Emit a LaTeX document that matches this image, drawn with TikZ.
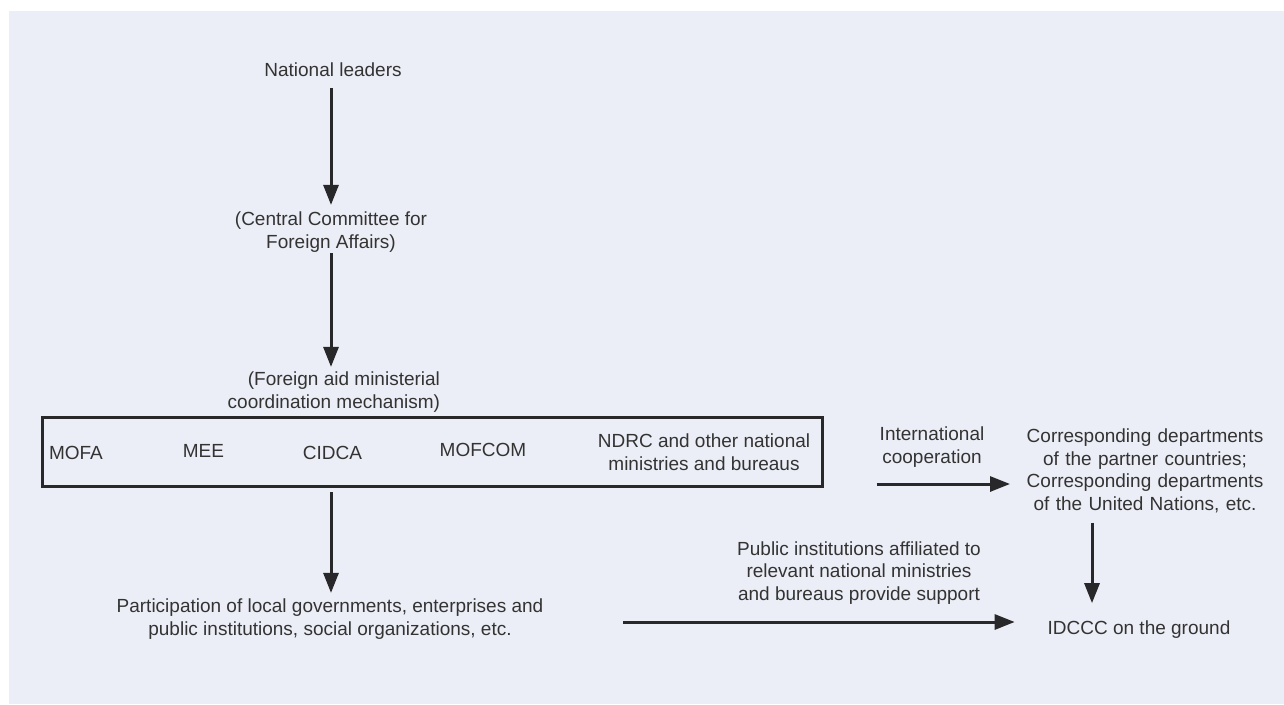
\documentclass[tikz,border=0pt]{standalone}
\usepackage{fontspec}
\setmainfont{Liberation Sans}
\usetikzlibrary{arrows.meta}
\definecolor{bg}{RGB}{236,238,247}
\definecolor{ink}{RGB}{51,51,51}
\definecolor{lineink}{RGB}{40,40,42}
\begin{document}
\begin{tikzpicture}[x=1pt,y=-1pt,
  lbl/.style={inner sep=0pt, outer sep=0pt, align=center, text=ink,
              font=\fontsize{19}{22.5}\selectfont},
  arr/.style={draw=lineink, line width=3pt,
              -{Triangle[length=20pt,width=15pt]}},
  frame/.style={draw=lineink, line width=3pt, inner sep=0pt}]
\fill[white] (0,0) rectangle (1284,704);
\fill[bg] (9,11) rectangle (1284,704);
\useasboundingbox (0,0) rectangle (1284,704);

% nodes
\node[lbl] (leaders) at (333,70) {National leaders};
\node[lbl] (cca) at (331,232) {(Central Committee for\\Foreign Affairs)};
\node[lbl, align=right, anchor=east] (mech) at (440,392) {(Foreign aid ministerial\\coordination mechanism)};
\node[frame, minimum width=780pt, minimum height=69pt] (box) at (432,451.5) {};
\node[lbl, anchor=west] (mofa) at (49,453) {MOFA};
\node[lbl] (mee) at (203.5,451) {MEE};
\node[lbl] (cidca) at (332.5,453) {CIDCA};
\node[lbl] (mofcom) at (483,450) {MOFCOM};
\node[lbl] (ndrc) at (704,452) {NDRC and other national\\ministries and bureaus};
\node[lbl] (intl) at (932,447) {International\\cooperation};
\node[lbl, text width=244pt] (corr) at (1145,471) {Corresponding departments\\of the partner countries;\\Corresponding departments\\of the United Nations, etc.};
\node[lbl] (pub) at (859,573) {Public institutions affiliated to\\relevant national ministries\\and bureaus provide support};
\node[lbl] (part) at (330,619) {Participation of local governments, enterprises and\\public institutions, social organizations, etc.};
\node[lbl] (idccc) at (1139,630) {IDCCC on the ground};

\coordinate (icrow) at (0,484);
\coordinate (parow) at (0,622);
\coordinate (downx) at (1092,0);
\coordinate (parstart) at (623,0);

% connectors
\draw[arr, shorten <=11pt, shorten >=7pt] (leaders.south -| cca.north) -- (cca.north);
\draw[arr, shorten <=1pt, shorten >=5pt] (cca.south) -- (mech.north -| cca.south);
\draw[arr, shorten <=4.5pt, shorten >=6pt] (box.south -| cca.south) -- (part.north -| cca.south);
\draw[arr, shorten <=53pt, shorten >=13pt] (box.east |- icrow) -- (corr.west |- icrow);
\draw[arr, shorten <=10pt, shorten >=18pt] (corr.south -| downx) -- (idccc.north -| downx);
\draw[arr, shorten >=33pt] (parstart |- parow) -- (idccc.west |- parow);
\end{tikzpicture}
\end{document}
